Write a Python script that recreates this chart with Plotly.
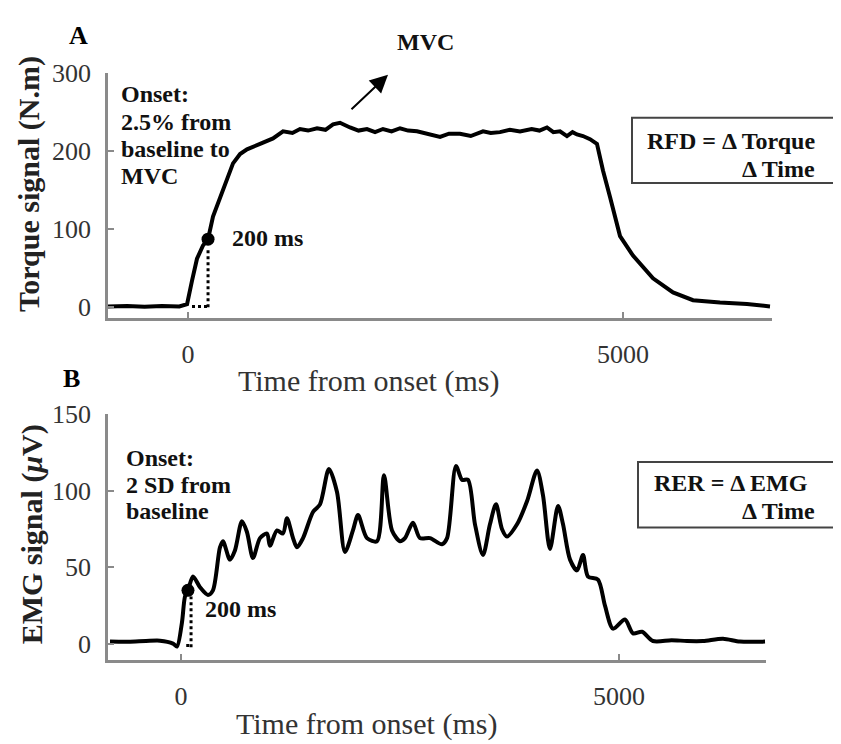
import plotly.graph_objects as go

# ---------------- data ----------------
torque_time = [-920, -700, -500, -300, -100, -11, 46, 103, 172, 230, 287, 368, 448, 517, 598, 678,
               828, 977, 1092, 1200, 1287, 1380, 1483, 1580, 1667, 1747, 1862, 1960, 2057, 2150,
               2241, 2340, 2437, 2530, 2632, 2780, 2897, 3000, 3126, 3250, 3391, 3480, 3586, 3700,
               3816, 3950, 4040, 4126, 4200, 4276, 4356, 4420, 4471, 4540, 4621, 4701, 4770, 4851,
               4966, 5115, 5345, 5575, 5805, 6115, 6425, 6690]
torque_value = [1, 1.5, 0.5, 1.5, 1, 4, 34, 62, 79, 87, 116, 141, 166, 184, 196, 202,
                209, 216, 225, 223, 228, 226, 229, 227, 234, 236, 230, 226, 228, 224,
                228, 225, 229, 226, 225, 221, 218, 222, 222, 219, 225, 223, 224, 227,
                225, 228, 226, 230, 224, 225, 219, 224, 221, 219, 215, 209, 175, 141,
                91, 66, 37, 19, 9, 6, 4, 1]

emg_time = [-810, -600, -400, -240, -91, -46, 11, 46, 80, 137, 217, 308, 365, 445, 479, 559, 616,
            696, 753, 822, 902, 982, 1016, 1096, 1164, 1210, 1279, 1324, 1393, 1507, 1587, 1689,
            1781, 1872, 1963, 2021, 2123, 2237, 2317, 2409, 2500, 2557, 2648, 2728, 2842, 2979,
            3037, 3139, 3208, 3276, 3356, 3447, 3527, 3596, 3664, 3721, 3836, 3950, 4064, 4132,
            4212, 4304, 4361, 4441, 4521, 4589, 4646, 4760, 4840, 4932, 5068, 5160, 5263, 5388,
            5600, 5776, 5959, 6187, 6381, 6667]
emg_value = [1.6, 1.5, 2.0, 2.2, 0.3, -1.6, 14, 31, 35, 44, 37, 32, 35, 63, 67, 55, 61,
             80, 73, 56, 69, 72, 64, 74, 72, 82, 69, 63, 69, 86, 91, 114,
             99, 60, 74, 84, 69, 67, 110, 74, 67, 69, 79, 69, 69, 65,
             69, 116, 107, 107, 78, 58, 78, 91, 75, 70, 78, 93, 113, 97,
             62, 90, 78, 55, 48, 58, 44, 42, 25, 10, 16, 7, 8, 2,
             2.5, 2, 2, 3.5, 1.6, 1.6]

torque_mark_t, torque_mark_v = [230], [87]
torque_vdot_t, torque_vdot_v = [230, 230], [0, 75]
torque_hdot_t, torque_hdot_v = [46, 230], [1, 1]

emg_mark_t, emg_mark_v = [80], [35]
emg_vdot_t, emg_vdot_v = [115, 115], [-2, 31]
emg_hdot_t, emg_hdot_v = [60, 115], [-1, -1]

torque_yticks = [0, 100, 200, 300]
emg_yticks = [0, 50, 100, 150]
time_ticks = [0, 5000]

# ---------------- figure ----------------
W, H = 841, 744
OFF = 8  # page body margin of the written html
SERIF = "Liberation Serif"
AX = "#8a8a8a"
TXT = "#333333"


def px(x):
    return (x - OFF) / W


def py(y):
    return 1 - (y - OFF) / H


fig = go.Figure()
line_style = dict(color="black", width=4)
dot_style = dict(color="black", width=3, dash="dot")

fig.add_trace(go.Scatter(x=torque_time, y=torque_value, mode="lines", line=line_style,
                         xaxis="x", yaxis="y"))
fig.add_trace(go.Scatter(x=torque_vdot_t, y=torque_vdot_v, mode="lines", line=dot_style,
                         xaxis="x", yaxis="y"))
fig.add_trace(go.Scatter(x=torque_hdot_t, y=torque_hdot_v, mode="lines", line=dot_style,
                         xaxis="x", yaxis="y"))
fig.add_trace(go.Scatter(x=torque_mark_t, y=torque_mark_v, mode="markers",
                         marker=dict(color="black", size=13), xaxis="x", yaxis="y"))

fig.add_trace(go.Scatter(x=emg_time, y=emg_value, mode="lines",
                         line=dict(color="black", width=4, shape="spline", smoothing=0.8),
                         xaxis="x2", yaxis="y2"))
fig.add_trace(go.Scatter(x=emg_vdot_t, y=emg_vdot_v, mode="lines", line=dot_style,
                         xaxis="x2", yaxis="y2"))
fig.add_trace(go.Scatter(x=emg_hdot_t, y=emg_hdot_v, mode="lines", line=dot_style,
                         xaxis="x2", yaxis="y2"))
fig.add_trace(go.Scatter(x=emg_mark_t, y=emg_mark_v, mode="markers",
                         marker=dict(color="black", size=13), xaxis="x2", yaxis="y2"))

axis_common = dict(showline=True, linecolor=AX, linewidth=2.5, showgrid=False, zeroline=False,
                   ticks="inside", ticklen=6, tickwidth=2, tickcolor=AX,
                   tickfont=dict(family=SERIF, size=26, color=TXT), fixedrange=True)

fig.update_layout(
    width=W, height=H,
    margin=dict(l=0, r=0, t=0, b=0),
    paper_bgcolor="white", plot_bgcolor="white",
    showlegend=False,
    xaxis=dict(domain=[px(108), px(772)], range=[-920, 6713], anchor="y",
               tickvals=time_ticks, ticklabelstandoff=11, **axis_common),
    yaxis=dict(domain=[py(311), py(60)], range=[-13.4, 300], anchor="x",
               tickvals=torque_yticks, ticklabelstandoff=9, **axis_common),
    xaxis2=dict(domain=[px(108), px(766)], range=[-833, 6678], anchor="y2",
                tickvals=time_ticks, ticklabelstandoff=11, **axis_common),
    yaxis2=dict(domain=[py(662), py(409.5)], range=[-10.5, 150], anchor="x2",
                tickvals=emg_yticks, ticklabelstandoff=9, **axis_common),
)

ann_font = dict(family=SERIF, size=24, color="#111111")
box_font = dict(family=SERIF, size=24, color="#111111")
title_font = dict(family=SERIF, size=30, color=TXT)
ytitle_font = dict(family=SERIF, size=30, color="#222222")


def text(x, y, s, font, xanchor="center", yanchor="middle", angle=0):
    fig.add_annotation(x=px(x), y=py(y), xref="paper", yref="paper", text=s, showarrow=False,
                       font=font, xanchor=xanchor, yanchor=yanchor, textangle=angle,
                       borderpad=0)


# panel letters
text(78, 22, "<b>A</b>", dict(family=SERIF, size=26, color="black"))
text(72, 373, "<b>B</b>", dict(family=SERIF, size=26, color="black"))

# axis titles
text(368, 376, "Time from onset (ms)", title_font)
text(366, 727, "Time from onset (ms)", title_font)
text(29, 174, "<b>Torque signal (N.m)</b>", ytitle_font, angle=-90)
text(32, 533, "<b>EMG signal (<i>μ</i>V)</b>", ytitle_font, angle=-90)

# annotations panel A
for yy, s in zip([82, 110, 138, 166], ["Onset:", "2.5% from", "baseline to", "MVC"]):
    text(120, yy, "<b>%s</b>" % s, ann_font, xanchor="left")
text(231, 229, "<b>200 ms</b>", ann_font, xanchor="left")
text(396, 28, "<b>MVC</b>", ann_font, xanchor="left")
fig.add_annotation(x=px(388), y=py(62), xref="paper", yref="paper", text="", showarrow=True,
                   ax=-38, ay=36, arrowhead=2, arrowsize=1.8, arrowwidth=2, arrowcolor="black",
                   standoff=0)

# annotations panel B
for yy, s in zip([455, 482, 509], ["Onset:", "2 SD from", "baseline"]):
    text(125, yy, "<b>%s</b>" % s, ann_font, xanchor="left")
text(204, 610, "<b>200 ms</b>", ann_font, xanchor="left")

# formula boxes
fig.add_shape(type="rect", xref="paper", yref="paper", x0=px(632), x1=px(836), y0=py(173), y1=py(106),
              line=dict(color="#444444", width=2), fillcolor="white")
text(646, 144, "<b>RFD = Δ Torque</b>", box_font, xanchor="left", yanchor="bottom")
text(778, 144, "<b>Δ Time</b>", box_font, yanchor="top")

fig.add_shape(type="rect", xref="paper", yref="paper", x0=px(638), x1=px(839), y0=py(526), y1=py(459),
              line=dict(color="#444444", width=2), fillcolor="white")
text(653, 495, "<b>RER = Δ EMG</b>", box_font, xanchor="left", yanchor="bottom")
text(778, 495, "<b>Δ Time</b>", box_font, yanchor="top")

fig.write_html("out.html")
